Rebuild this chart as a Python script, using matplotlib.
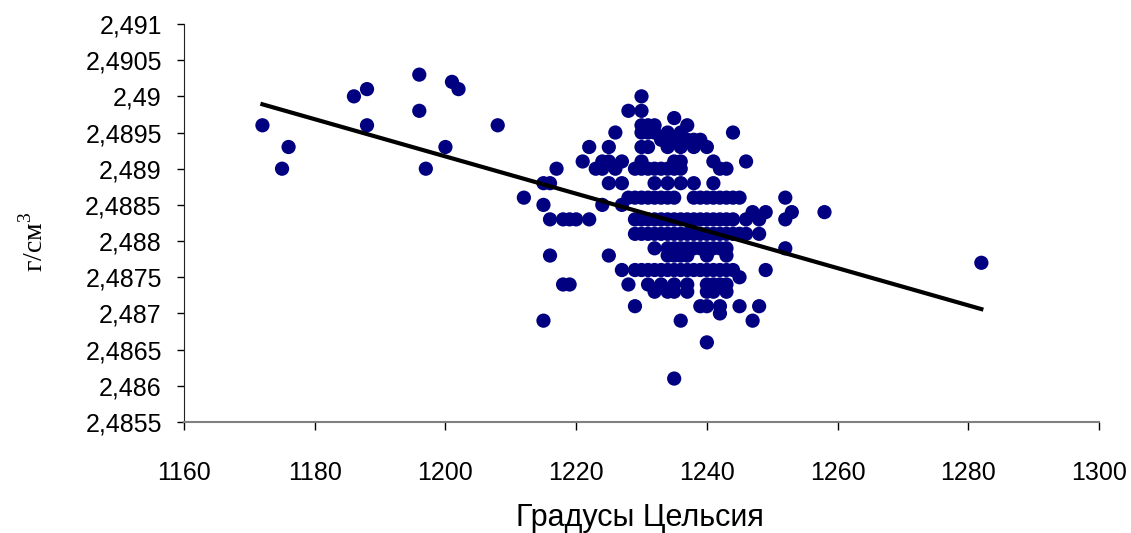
import numpy as np
import matplotlib
matplotlib.use('Agg')
import matplotlib.pyplot as plt
from matplotlib.ticker import FuncFormatter, MultipleLocator

plt.rcParams['font.family'] = ['Liberation Sans', 'DejaVu Sans']
plt.rcParams['mathtext.fontset'] = 'custom'
plt.rcParams['mathtext.rm'] = 'Liberation Serif'

# density levels (g/cm3) and the temperatures measured at each level
row_density = [2.4903, 2.4902, 2.4901, 2.4900, 2.4898, 2.4897, 2.4896, 2.4895,
               2.4894, 2.4893, 2.4891, 2.4890, 2.4888, 2.4886, 2.4885, 2.4884,
               2.4883, 2.4881, 2.4879, 2.4878, 2.4877, 2.4876, 2.4875, 2.4874,
               2.4873, 2.4871, 2.4870, 2.4869, 2.4866, 2.4861]
row_temps = [
    [1196],
    [1201],
    [1188, 1202],
    [1186, 1230],
    [1196, 1228, 1230],
    [1235],
    [1172, 1188, 1208, 1230, 1231, 1232, 1237],
    [1226, 1230, 1231, 1232, 1234, 1236, 1244],
    [1233, 1235, 1237, 1238, 1239],
    [1176, 1200, 1222, 1225, 1230, 1231, 1234, 1236, 1238, 1240],
    [1221, 1224, 1225, 1227, 1230, 1235, 1236, 1241, 1246],
    [1175, 1197, 1217, 1223, 1224, 1226, 1229, 1230, 1231, 1232, 1233, 1234,
     1235, 1236, 1242, 1243],
    [1215, 1216, 1225, 1227, 1232, 1234, 1236, 1238, 1241],
    [1212, 1228, 1229, 1230, 1231, 1232, 1233, 1234, 1235, 1238, 1239, 1240,
     1241, 1242, 1243, 1244, 1245, 1252],
    [1215, 1224, 1227],
    [1247, 1249, 1253, 1258],
    [1216, 1218, 1219, 1220, 1222, 1229, 1230, 1231, 1232, 1233, 1234, 1235,
     1236, 1237, 1238, 1239, 1240, 1241, 1242, 1243, 1244, 1246, 1248, 1252],
    [1229, 1230, 1231, 1232, 1233, 1234, 1235, 1236, 1237, 1238, 1239, 1240,
     1241, 1242, 1243, 1244, 1245, 1246, 1248],
    [1232, 1234, 1235, 1236, 1237, 1238, 1239, 1240, 1241, 1242, 1243, 1252],
    [1216, 1225, 1234, 1235, 1236, 1237, 1240, 1243],
    [1282],
    [1227, 1229, 1230, 1231, 1232, 1233, 1234, 1235, 1236, 1237, 1238, 1239,
     1240, 1241, 1242, 1243, 1244, 1249],
    [1245],
    [1218, 1219, 1228, 1231, 1233, 1235, 1237, 1240, 1241, 1242, 1243],
    [1232, 1234, 1235, 1237, 1240, 1241, 1243],
    [1229, 1239, 1240, 1242, 1245, 1248],
    [1242],
    [1215, 1236, 1247],
    [1240],
    [1235],
]

# linear trend line (end points)
trend_x = [1172, 1282]
trend_y = [2.48989, 2.48706]

temps = np.array([t for row in row_temps for t in row], dtype=float)
dens = np.array([d for d, row in zip(row_density, row_temps) for _ in row])

fig = plt.figure(figsize=(11.31, 5.33), dpi=100)
ax = fig.add_axes([0.1627, 0.2083, 0.809, 0.7467])

ax.scatter(temps, dens, s=105, color='#000080', edgecolors='none', zorder=3)
ax.plot(trend_x, trend_y, color='black', lw=3, zorder=4)

ax.set_xlim(1160, 1300)
ax.set_ylim(2.4855, 2.491)
ax.xaxis.set_major_locator(MultipleLocator(20))
ax.yaxis.set_major_locator(MultipleLocator(0.0005))


def comma_fmt(v, pos):
    s = f'{v:.4f}'.rstrip('0').rstrip('.')
    return s.replace('.', ',')


ax.yaxis.set_major_formatter(FuncFormatter(comma_fmt))
ax.tick_params(axis='y', direction='out', length=5, width=1, labelsize=18, pad=11)
ax.tick_params(axis='x', direction='out', length=6, width=1, labelsize=18, pad=22)

for side in ('top', 'right'):
    ax.spines[side].set_visible(False)
ax.spines['left'].set_color('#222222')
ax.spines['bottom'].set_color('#808080')
ax.spines['bottom'].set_linewidth(1.5)

fig.text(640 / 1131, 1 - 518 / 533, 'Градусы Цельсия', fontsize=22,
         ha='center', va='center')
fig.text(34 / 1131, 1 - 242 / 533, r'г/см$^{3}$', fontsize=20,
         family='Liberation Serif', rotation=90, ha='center', va='center')

fig.savefig('out.png', dpi=100)
